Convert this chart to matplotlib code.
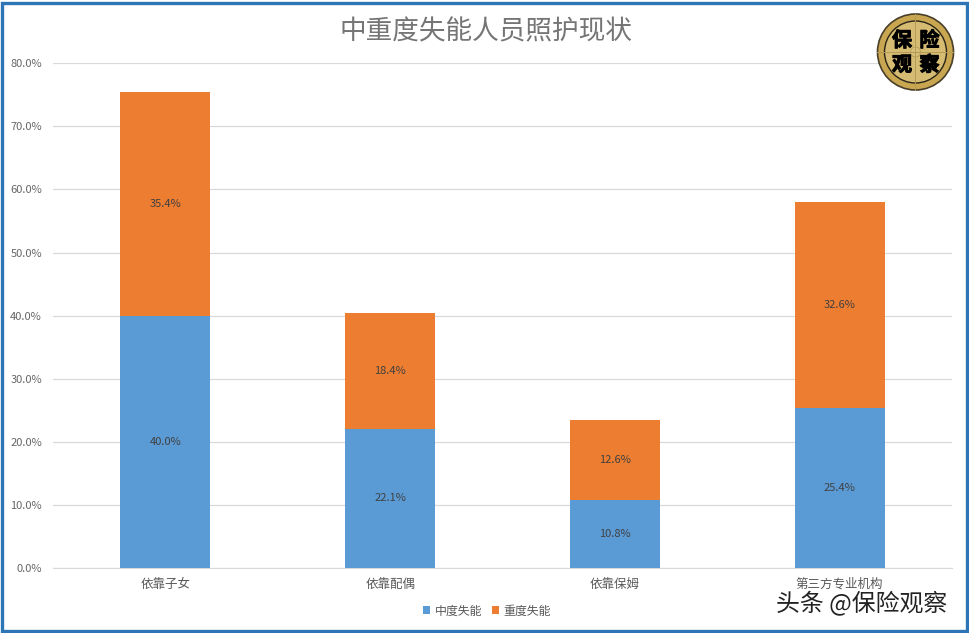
import matplotlib
matplotlib.use('Agg')
import matplotlib.pyplot as plt
import matplotlib.patheffects as pe
from matplotlib.patches import Circle, Rectangle
import numpy as np

plt.rcParams['font.family'] = ['Noto Sans CJK SC', 'DejaVu Sans']

categories = ['依靠子女', '依靠配偶', '依靠保姆', '第三方专业机构']
moderate = [40.0, 22.1, 10.8, 25.4]
severe = [35.4, 18.4, 12.6, 32.6]
series_names = ['中度失能', '重度失能']
y_ticks = [0, 10, 20, 30, 40, 50, 60, 70, 80]

W, H = 969, 633
fig = plt.figure(figsize=(W / 100, H / 100), dpi=100)

# plot area in pixels, y measured from the top
left, right, top, bottom = 53, 952, 63.2, 568.2
ax = fig.add_axes([left / W, 1 - bottom / H, (right - left) / W, (bottom - top) / H])

x = np.arange(len(categories))
ax.bar(x, moderate, width=0.4, color='#5B9BD5', label=series_names[0], zorder=3)
ax.bar(x, severe, width=0.4, bottom=moderate, color='#ED7D31', label=series_names[1], zorder=3)

for i in range(len(categories)):
    ax.text(x[i], moderate[i] / 2, f'{moderate[i]:.1f}%', ha='center', va='center',
            fontsize=8, color='#404040', zorder=4)
    ax.text(x[i], moderate[i] + severe[i] / 2, f'{severe[i]:.1f}%', ha='center', va='center',
            fontsize=8, color='#404040', zorder=4)

ax.set_xlim(-0.5, 3.5)
ax.set_ylim(0, 80)
ax.set_yticks(y_ticks)
ax.set_yticklabels([f'{v:.1f}%' for v in y_ticks], fontsize=8, color='#666666')
ax.set_xticks(x)
ax.set_xticklabels(categories, fontsize=9, color='#595959')
ax.tick_params(length=0, pad=7)
ax.tick_params(axis='y', pad=8)
ax.grid(axis='y', color='#D9D9D9', linewidth=0.9, zorder=0)
ax.set_axisbelow(True)
for name in ['top', 'right', 'left']:
    ax.spines[name].set_visible(False)
ax.spines['bottom'].set_color('#D9D9D9')

fig.text(485.5 / W, 1 - 31.5 / H, '中重度失能人员照护现状', ha='center', va='center',
         fontsize=19.2, color='#757575')

fig.legend(loc='center', bbox_to_anchor=(487 / W, 1 - 611 / H), ncol=2, frameon=False,
           fontsize=8.6, handlelength=0.6, handleheight=0.6, handletextpad=0.4,
           columnspacing=0.8, labelcolor='#595959')

# overlay in pixel coordinates for the frame, badge and watermark
ov = fig.add_axes([0, 0, 1, 1], zorder=10)
ov.set_xlim(0, W)
ov.set_ylim(H, 0)
ov.axis('off')
ov.patch.set_alpha(0)
ov.add_patch(Rectangle((2.5, 2.5), 964.5, 628.5, fill=False, edgecolor='#2E75B6', linewidth=2.4))

ov.add_patch(Circle((915.5, 52), 38, facecolor='#C9A650', edgecolor='#4A3F2A', linewidth=1.2))
ov.add_patch(Circle((915.5, 52), 31, facecolor='#D6BC72', edgecolor='#2A2418', linewidth=1.0))
ov.plot([915.5, 915.5], [14, 90], color='#B39A58', linewidth=0.7)
ov.plot([877.5, 953.5], [52, 52], color='#B39A58', linewidth=0.7)
ov.add_patch(Circle((915.5, 52), 5, facecolor='#D8BF78', edgecolor='#B39A58', linewidth=0.6))
for ch, cx, cy in [('保', 902, 40), ('险', 929.5, 40), ('观', 902, 64.5), ('察', 929.5, 64.5)]:
    ov.text(cx, cy, ch, ha='center', va='center', fontsize=14.5, fontweight='bold', color='black',
            path_effects=[pe.withStroke(linewidth=0.7, foreground='black')])

ov.text(861.5, 604, '头条 @保险观察', ha='center', va='center', fontsize=17.2, color='#222222')

fig.savefig('out.png', dpi=100)
